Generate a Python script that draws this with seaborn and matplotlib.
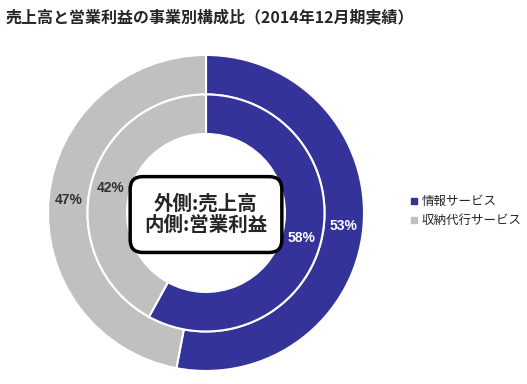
import matplotlib
matplotlib.use("Agg")
import matplotlib.pyplot as plt
from matplotlib.lines import Line2D
from matplotlib.patches import FancyBboxPatch
import seaborn as sns

# ============================
#       Data
# ============================
segments = ["情報サービス", "収納代行サービス"]
sales_share = [53, 47]      # outer ring: 売上高
profit_share = [58, 42]     # inner ring: 営業利益
colors = ["#333399", "#C0C0C0"]
pct_colors = ["white", "#333333"]

title = "売上高と営業利益の事業別構成比（2014年12月期実績）"
center_text = "外側:売上高\n内側:営業利益"

# ============================
#       Style
# ============================
sns.set_theme(style="white")
plt.rcParams["font.family"] = ["Noto Sans CJK JP", "DejaVu Sans"]
num_font = ["Liberation Sans Narrow", "Liberation Sans", "DejaVu Sans"]

fig = plt.figure(figsize=(5.27, 3.84), dpi=100)
ax = fig.add_axes([0.0911, 0.0339, 0.5996, 0.823])

fmt = lambda p: f"{round(p)}%"

# outer ring
wedges_o, _, pcts_o = ax.pie(
    sales_share, colors=colors, startangle=90, counterclock=False,
    radius=1.0, autopct=fmt, pctdistance=0.875,
    wedgeprops=dict(width=0.25, edgecolor="white", linewidth=1.5),
)
# inner ring
wedges_i, _, pcts_i = ax.pie(
    profit_share, colors=colors, startangle=90, counterclock=False,
    radius=0.75, autopct=fmt, pctdistance=0.833,
    wedgeprops=dict(width=0.25, edgecolor="white", linewidth=1.5),
)
for pcts in (pcts_o, pcts_i):
    for t, c in zip(pcts, pct_colors):
        t.set_color(c)
        t.set_fontsize(10)
        t.set_fontweight("bold")
        t.set_family(num_font)

ax.set_xlim(-1, 1)
ax.set_ylim(-1, 1)
ax.set_aspect("equal")

# center label box
box = FancyBboxPatch((-0.46, -0.23), 0.92, 0.44,
                     boxstyle="round,pad=0.02,rounding_size=0.08",
                     facecolor="white", edgecolor="black", linewidth=2.5,
                     zorder=5)
ax.add_patch(box)
ax.text(0.0, -0.01, center_text, ha="center", va="center",
        fontsize=14, fontweight="bold", linespacing=1.1, zorder=6)

# title
fig.text(0.01, 0.955, title, fontsize=11.5, fontweight="bold",
         ha="left", va="center")

# legend
handles = [Line2D([], [], marker="s", linestyle="", markersize=4,
                  color=c) for c in colors]
fig.legend(handles, segments, loc="center left",
           bbox_to_anchor=(0.757, 0.45), frameon=False, fontsize=9,
           handlelength=0.6, handletextpad=0.3, labelspacing=0.5)

fig.savefig("out.png", dpi=100)
